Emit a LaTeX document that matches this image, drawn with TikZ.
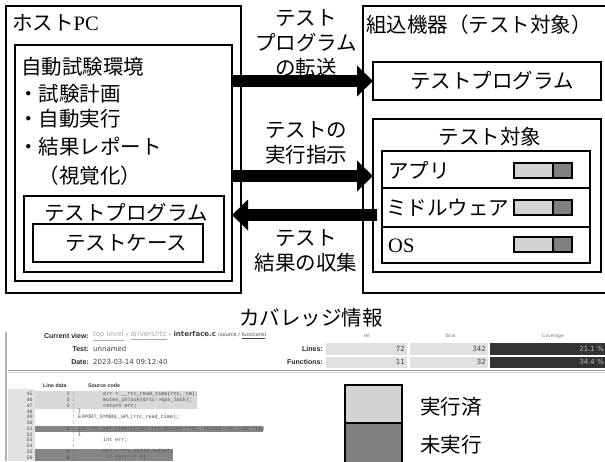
\documentclass[tikz,border=0pt]{standalone}
\usepackage{fontspec}
\setmainfont{Liberation Serif}
\newfontfamily\jp{Noto Sans CJK JP}
\newfontfamily\lsans{Liberation Sans}
\newfontfamily\dsans{DejaVu Sans}
\newfontfamily\lmono{Liberation Mono}
\usetikzlibrary{arrows.meta}
\definecolor{barlight}{HTML}{D3D3D3}
\definecolor{bardark}{HTML}{808080}
\definecolor{cellgray}{HTML}{E0E0E0}
\definecolor{covdark}{HTML}{333333}
\definecolor{bandlight}{HTML}{D8D8D8}
\definecolor{banddark}{HTML}{858585}
\definecolor{numcol}{HTML}{E2E2E2}
\begin{document}
\begin{tikzpicture}[x=1pt,y=-1pt,
  box/.style={draw, line width=1.5pt, inner sep=0pt, outer sep=0pt, anchor=north west},
  jt/.style={font=\fontsize{20.5}{25}\jp, inner sep=0pt},
  bigarrow/.style={line width=12pt, -{Triangle[length=16pt,width=30pt]}},
  barL/.style={draw, line width=1.2pt, fill=barlight, inner sep=0pt, outer sep=0pt, anchor=north west, minimum width=39pt, minimum height=15pt},
  barD/.style={draw, line width=1.2pt, fill=bardark, inner sep=0pt, outer sep=0pt, anchor=north west, minimum width=19pt, minimum height=15pt},
  lab/.style={font=\lsans\bfseries\fontsize{7}{8}\selectfont, text=black!85, inner sep=0pt},
  val/.style={font=\dsans\fontsize{7}{8}\selectfont, text=black!75, inner sep=0pt},
  tiny/.style={font=\dsans\fontsize{4.5}{5}\selectfont, text=black!55, inner sep=0pt},
  code/.style={font=\lmono\fontsize{5.1}{5.7}\selectfont, text=black!75, inner sep=0pt, anchor=west},
  num/.style={font=\lmono\fontsize{5.1}{5.7}\selectfont, text=black!70, inner sep=0pt, anchor=east},
  colh/.style={font=\lsans\bfseries\fontsize{5.3}{6}\selectfont, text=black!80, inner sep=0pt, anchor=west}
]
\useasboundingbox (0,0) rectangle (605,461);

% ---------------- Host PC ----------------
\node[box, minimum width=235pt, minimum height=287pt] (host) at (6,6) {};
\node[box, minimum width=217pt, minimum height=236pt] (env) at (15,45) {};
\node[box, minimum width=200pt, minimum height=76pt] (ltp) at (24,196) {};
\node[box, minimum width=170pt, minimum height=38pt] (tcase) at (33,224) {};

\node[jt, anchor=west] (hostlbl) at (12,23) {ホスト{\rmfamily PC}};
\node[jt, anchor=west] (envlbl) at (21,67) {自動試験環境};
\node[jt, anchor=west] (i1) at (18,94) {・試験計画};
\node[jt, anchor=west] (i2) at (18,119) {・自動実行};
\node[jt, anchor=west] (i3) at (18,147) {・結果レポート};
\node[jt, anchor=west] (i4) at (18,176) {　（視覚化）};
\node[jt] (ltplbl) at (126,213) {テストプログラム};
\node[jt] (tcaselbl) at (126,243) {テストケース};

% ---------------- Embedded device ----------------
\node[anchor=north west, minimum width=242pt, minimum height=287pt, inner sep=0pt, outer sep=0pt] (dev) at (363,6) {};
\draw[line width=1.5pt] (dev.north east) -- (dev.north west) -- (dev.south west) -- (dev.south east);
\node[jt, anchor=west] (devlbl) at (366,25) {組込機器（テスト対象）};
\node[box, minimum width=228pt, minimum height=38pt] (rtp) at (373,62) {};
\node[jt] (rtplbl) at (492,81) {テストプログラム};
\node[box, minimum width=228pt, minimum height=153pt] (tgt) at (373,119) {};
\node[jt] (tgtlbl) at (490,137) {テスト対象};
\node[box, minimum width=208pt, minimum height=37pt] (r1) at (382,151) {};
\node[box, minimum width=208pt, minimum height=39pt] (r2) at (382,188) {};
\node[box, minimum width=208pt, minimum height=36pt] (r3) at (382,227) {};
\node[jt, anchor=west] (r1l) at (388,170) {アプリ};
\node[jt, anchor=west] (r2l) at (386,208) {ミドルウェア};
\node[anchor=west, inner sep=0pt, font=\fontsize{20.5}{25}\selectfont] (r3l) at (388,246) {OS};
\node[barL] (b1l) at (514,163) {};
\node[barD] (b1d) at (553,163) {};
\node[barL] (b2l) at (514,200) {};
\node[barD] (b2d) at (553,200) {};
\node[barL] (b3l) at (514,237) {};
\node[barD] (b3d) at (553,237) {};

% ---------------- Arrow labels ----------------
\node[jt, align=center] (lab1) at (306,43) {テスト\\プログラム\\の転送};
\node[jt, align=center] (lab2) at (306,143) {テストの\\実行指示};
\node[jt, align=center] (lab3) at (306,251) {テスト\\結果の収集};

% ---------------- Arrows ----------------
\coordinate (a2) at (373,176);
\coordinate (a3) at (377,215);
\draw[bigarrow] (env.east |- rtp.west) -- (rtp.west);
\draw[bigarrow] (env.east |- a2) -- (a2);
\draw[bigarrow] (a3) -- (env.east |- a3);

% ---------------- Coverage info ----------------
\node[jt] (cov) at (311,318) {カバレッジ情報};

% screenshot frame
\draw[gray!60, line width=1.2pt] (6,332) -- (6,461);

% header
\node[lab, anchor=east] (cvk) at (89,336) {Current view:};
\node[val, anchor=west] (cvv) at (93,336) {\textcolor{gray!70}{\underline{top level}} - \textcolor{gray!70}{\underline{drivers/rtc}} - \textbf{interface.c} {\fontsize{5}{6}\selectfont(source / \underline{functions})}};
\node[lab, anchor=east] (tk) at (89,349) {Test:};
\node[val, anchor=west] (tv) at (93,349) {unnamed};
\node[lab, anchor=east] (dk) at (89,362) {Date:};
\node[val, anchor=west] (dv) at (93,362) {2023-03-14 09:12:40};

\node[tiny] (hh) at (367,336) {Hit};
\node[tiny] (th) at (450,336) {Total};
\node[tiny] (ch) at (553,336) {Coverage};
\node[lab, anchor=east] (lk) at (323,349) {Lines:};
\node[lab, anchor=east] (fk) at (323,362) {Functions:};
\fill[cellgray] (326,343) rectangle (407,355);
\fill[cellgray] (410,343) rectangle (488,355);
\fill[covdark] (490,343) rectangle (605,355);
\fill[cellgray] (326,357) rectangle (407,368);
\fill[cellgray] (410,357) rectangle (488,368);
\fill[covdark] (490,357) rectangle (605,368);
\node[val, anchor=east] (v1) at (405,349) {72};
\node[val, anchor=east] (v2) at (486,349) {342};
\node[val, anchor=east, text=gray!55] (v3) at (604,349) {21.1 \%};
\node[val, anchor=east] (v4) at (405,362) {11};
\node[val, anchor=east] (v5) at (486,362) {32};
\node[val, anchor=east, text=gray!55] (v6) at (604,362) {34.4 \%};

\draw[gray!75, line width=1pt] (8,370.5) -- (605,370.5);
\draw[gray!35, line width=1pt] (8,372) -- (605,372);

% source listing
\node[colh] (ld) at (43,386) {Line data};
\node[colh] (sc) at (88,386) {Source code};
\fill[numcol] (8,389) rectangle (35,461);
\fill[bandlight] (35,391.4) rectangle (197,408.7);
\fill[banddark] (35,425.8) rectangle (263,431.6);
\fill[banddark] (35,448.8) rectangle (173,461);

\foreach \k in {45,...,56}{
  \node[num] (n\k) at (33,{394.3+(\k-45)*5.73}) {\k};
  \node[code] (c\k) at (72,{394.3+(\k-45)*5.73}) {:};
}
\foreach \k/\v in {45/3,46/3,47/3,51/0,55/0,56/0}{
  \node[num] (h\k) at (70,{394.3+(\k-45)*5.73}) {\v};
}
\node[code] (s45) at (103,394.3) {err = \_\_rtc\_read\_time(rtc, tm);};
\node[code] (s46) at (103,400.03) {mutex\_unlock(\&rtc->ops\_lock);};
\node[code] (s47) at (103,405.76) {return err;};
\node[code] (s48) at (78,411.49) {\}};
\node[code] (s49) at (78,417.22) {EXPORT\_SYMBOL\_GPL(rtc\_read\_time);};
\node[code, text=black!65] (s51) at (78,428.68) {int rtc\_set\_time(struct rtc\_device *rtc, struct rtc\_time *tm)};
\node[code] (s52) at (78,434.41) {\{};
\node[code] (s53) at (103,440.14) {int err;};
\node[code, text=black!65] (s55) at (103,451.6) {err = rtc\_valid\_tm(tm);};
\node[code, text=black!65] (s56) at (106,457.33) {if (err != 0)};

% legend
\node[anchor=north west, fill=bardark, minimum width=57pt, minimum height=39pt, inner sep=0pt, outer sep=0pt] (lgD) at (345,423) {};
\draw[line width=1.8pt] (lgD.south west) -- (lgD.north west) -- (lgD.north east) -- (lgD.south east);
\node[anchor=north west, draw, line width=1.8pt, fill=barlight, minimum width=57pt, minimum height=38pt, inner sep=0pt, outer sep=0pt] (lgL) at (345,385) {};
\node[jt, anchor=west] (lgLt) at (420,407) {実行済};
\node[jt, anchor=west] (lgDt) at (420,445) {未実行};
\end{tikzpicture}
\end{document}
